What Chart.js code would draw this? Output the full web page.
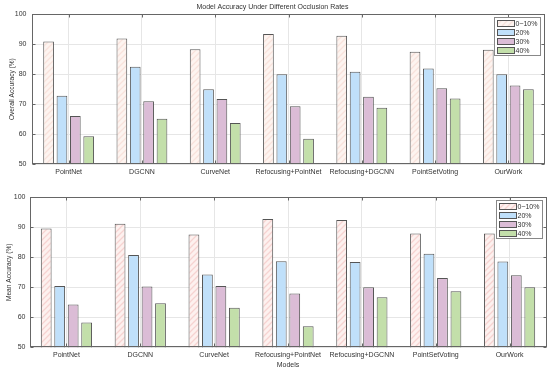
<!DOCTYPE html>
<html>
<head>
<meta charset="utf-8">
<script src="https://cdn.jsdelivr.net/npm/chart.js@4/dist/chart.umd.min.js"></script>
<style>
  html, body { margin: 0; padding: 0; background: #fff; }
  #wrap { position: relative; width: 550px; height: 374px; }
  canvas { position: absolute; left: 0; }
  #topChart { top: 0; }
  #bottomChart { top: 186px; }
</style>
</head>
<body>
<div id="wrap">
  <canvas id="topChart" width="550" height="186"></canvas>
  <canvas id="bottomChart" width="550" height="188"></canvas>
</div>
<script>
// --- data ---
const models = ['PointNet', 'DGCNN', 'CurveNet', 'Refocusing+PointNet', 'Refocusing+DGCNN', 'PointSetVoting', 'OurWork'];
const rates = ['0~10%', '20%', '30%', '40%'];

// overall accuracy (top panel)
const oa0 = [90.9, 91.9, 88.3, 93.4, 92.8, 87.5, 88.2];
const oa20 = [72.8, 82.5, 75.0, 80.0, 80.8, 81.9, 80.0];
const oa30 = [66.0, 71.0, 71.7, 69.3, 72.5, 75.3, 76.2];
const oa40 = [59.3, 65.1, 63.7, 58.4, 68.8, 71.9, 75.0];

// mean accuracy (bottom panel)
const ma0 = [89.6, 91.2, 87.6, 92.8, 92.4, 87.9, 87.9];
const ma20 = [70.4, 80.8, 74.3, 78.7, 78.4, 81.2, 78.6];
const ma30 = [64.3, 70.3, 70.4, 67.9, 70.0, 73.1, 74.0];
const ma40 = [58.3, 64.7, 63.2, 57.0, 66.7, 68.7, 70.0];

const yTicks = [50, 60, 70, 80, 90, 100];

const FONT = "'Liberation Sans', Arial, sans-serif";
const TXT = '#333';
const EDGE = '#555';
const GRID = '#e6e6e6';

// hatched fill for the 0~10% bars
function hatch(bg, stripe) {
    const n = 6;
    const c = document.createElement('canvas');
    c.width = n; c.height = n;
    const g = c.getContext('2d');
    g.fillStyle = bg;
    g.fillRect(0, 0, n, n);
    g.strokeStyle = stripe;
    g.lineWidth = 1.3;
    g.beginPath();
    g.moveTo(-1, n + 1); g.lineTo(n + 1, -1);
    g.moveTo(-1, 1); g.lineTo(1, -1);
    g.moveTo(n - 1, n + 1); g.lineTo(n + 1, n - 1);
    g.stroke();
    return g.createPattern(c, 'repeat');
}

// box, inward ticks and inside legend (matlab look)
const frame = {
    id: 'frame',
    afterDatasetsDraw(chart) {
        const ctx = chart.ctx;
        const a = chart.chartArea;
        const x = chart.scales.x, y = chart.scales.y;
        const L = Math.round(a.left) + 0.5, R = Math.round(a.right) - 0.5;
        const T = Math.round(a.top) + 0.5, B = Math.round(a.bottom) - 0.5;
        ctx.save();
        ctx.strokeStyle = '#666';
        ctx.lineWidth = 1;
        ctx.strokeRect(L, T, R - L, B - T);
        ctx.beginPath();
        x.ticks.forEach((t, i) => {
            const px = Math.round(x.getPixelForTick(i)) + 0.5;
            ctx.moveTo(px, B); ctx.lineTo(px, B - 3);
            ctx.moveTo(px, T); ctx.lineTo(px, T + 3);
        });
        y.ticks.forEach((t, i) => {
            const py = Math.round(y.getPixelForTick(i)) + 0.5;
            ctx.moveTo(L, py); ctx.lineTo(L + 3, py);
            ctx.moveTo(R, py); ctx.lineTo(R - 3, py);
        });
        ctx.stroke();

        // legend box
        const bw = 46, bh = 38;
        const bx = Math.round(a.right - 5 - bw) + 0.5;
        const by = Math.round(a.top + 3) + 0.5;
        ctx.fillStyle = '#fff';
        ctx.fillRect(bx, by, bw, bh);
        ctx.strokeStyle = '#888';
        ctx.strokeRect(bx, by, bw, bh);
        ctx.font = '7px ' + FONT;
        ctx.textBaseline = 'middle';
        chart.data.datasets.forEach((ds, i) => {
            const sy = by + 3 + i * 9;
            ctx.fillStyle = ds.backgroundColor;
            ctx.fillRect(bx + 3, sy, 17, 6);
            ctx.strokeStyle = EDGE;
            ctx.strokeRect(bx + 3, sy, 17, 6);
            ctx.fillStyle = TXT;
            ctx.fillText(ds.label, bx + 21, sy + 3.3);
        });
        ctx.restore();
    }
};

function makeChart(id, series, opts) {
    const colors = [opts.hatch, '#c0e0fa', '#dbbcd6', '#c3dfaa'];
    return new Chart(document.getElementById(id), {
        type: 'bar',
        data: {
            labels: models,
            datasets: series.map((d, i) => ({
                label: rates[i],
                data: d,
                backgroundColor: colors[i],
                borderColor: EDGE,
                borderWidth: 1,
                borderSkipped: 'bottom',
                categoryPercentage: 0.73,
                barPercentage: 0.8
            }))
        },
        options: {
            responsive: false,
            animation: false,
            devicePixelRatio: 1,
            layout: { padding: opts.padding },
            plugins: {
                legend: { display: false },
                tooltip: { enabled: false },
                title: {
                    display: !!opts.title,
                    text: opts.title,
                    color: TXT,
                    font: { family: FONT, size: 7, weight: 'normal' },
                    padding: { top: 3, bottom: 2.9 }
                }
            },
            scales: {
                x: {
                    grid: { color: GRID, offset: false, drawTicks: false },
                    border: { display: false },
                    ticks: {
                        color: TXT, font: { family: FONT, size: 7 },
                        padding: 4, maxRotation: 0, autoSkip: false
                    },
                    title: {
                        display: !!opts.xTitle,
                        text: opts.xTitle,
                        color: TXT,
                        font: { family: FONT, size: 7 },
                        padding: { top: 0, bottom: 5 }
                    },
                    afterFit(s) { s.height = opts.xHeight; }
                },
                y: {
                    min: 50, max: 100,
                    afterBuildTicks(s) { s.ticks = yTicks.map(v => ({ value: v })); },
                    grid: { color: GRID, drawTicks: false },
                    border: { display: false },
                    ticks: { color: TXT, font: { family: FONT, size: 7 }, padding: opts.yPad },
                    title: {
                        display: true,
                        text: opts.yTitle,
                        color: TXT,
                        font: { family: FONT, size: 6.6 },
                        padding: { top: opts.yTitlePad, bottom: 0 }
                    },
                    afterFit(s) { s.width = opts.yWidth; }
                }
            }
        },
        plugins: [frame]
    });
}

makeChart('topChart', [oa0, oa20, oa30, oa40], {
    hatch: hatch('#fdf4f0', '#f8e2dc'),
    title: 'Model Accuracy Under Different Occlusion Rates',
    yTitle: 'Overall Accuracy (%)',
    padding: { left: 0, right: 5, top: 0, bottom: 0 },
    xHeight: 22, yWidth: 32, yPad: 5.5, yTitlePad: 8
});

makeChart('bottomChart', [ma0, ma20, ma30, ma40], {
    hatch: hatch('#fdf1ef', '#f6d3d1'),
    title: '',
    xTitle: 'Models',
    yTitle: 'Mean Accuracy (%)',
    padding: { left: 0, right: 3.5, top: 11.3, bottom: 0 },
    xHeight: 26.7, yWidth: 29.5, yPad: 4, yTitlePad: 5.3
});
</script>
</body>
</html>
